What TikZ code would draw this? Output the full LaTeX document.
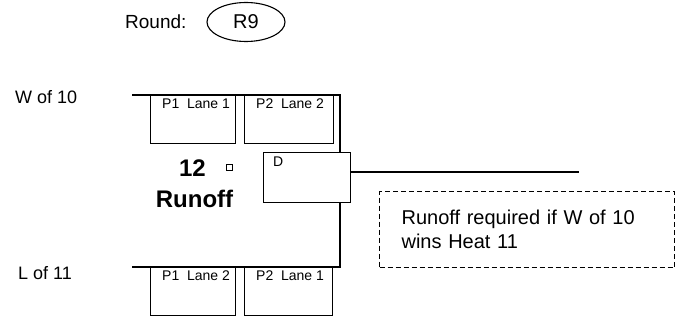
\documentclass[tikz,border=0pt]{standalone}
\usepackage{fontspec}
\setmainfont{Liberation Sans}
\usetikzlibrary{positioning,shapes.geometric}

\begin{document}
\begin{tikzpicture}[x=1pt,y=-1pt,
    lanebox/.style={draw,line width=1.4pt,minimum width=85pt,minimum height=48pt,inner sep=0pt,anchor=north west},
    lanetxt/.style={font=\fontsize{14}{16}\selectfont,anchor=west,inner sep=0pt},
    lbl/.style={font=\fontsize{18}{22}\selectfont,anchor=west,inner sep=0pt},
    big/.style={font=\fontsize{24}{28}\selectfont\bfseries,inner sep=0pt},
    wire/.style={line width=1.2pt}]
        \useasboundingbox (0,0) rectangle (680,320);
        % round header
        \node[lbl,font=\fontsize{19}{22}\selectfont] (round) at (125,22) {Round:};
        \node[draw,ellipse,line width=1.1pt,minimum width=78pt,minimum height=39pt,inner sep=0pt,
              font=\fontsize{20}{22}\selectfont] (rnd) at (246,22) {R9};
        % entrants
        \node[lbl] (win) at (15,97) {W of 10};
        \node[lbl] (lose) at (18,273) {L of 11};
        % lane boxes
        \node[lanebox] (p1a) at (150,95) {};
        \node[lanebox,minimum width=89pt] (p2a) at (244,95) {};
        \node[lanebox] (p1b) at (150,267) {};
        \node[lanebox,minimum width=88pt] (p2b) at (244,267) {};
        \foreach \b/\t in {p1a/P1~~Lane 1,p2a/P2~~Lane 2,p1b/P1~~Lane 2,p2b/P2~~Lane 1}{
          \node[lanetxt] at ([xshift=12pt,yshift=-8.5pt]\b.north west) {\t};
        }
        % heat
        \node[big] (num) at (192.5,168) {12};
        \node[draw,line width=1pt,minimum size=6pt,inner sep=0pt] (chk) at (229.5,167.5) {};
        \node[big] (runoff) at (194.5,198.5) {Runoff};
        \node[draw,line width=1.4pt,minimum width=87pt,minimum height=50pt,inner sep=0pt,anchor=north west] (dbox) at (263,152) {};
        \node[font=\fontsize{14}{16}\selectfont,anchor=north west,inner sep=0pt] at ([xshift=10pt,yshift=-5pt]dbox.north west) {D};
        % bracket lines
        \coordinate (topin) at (132,95);
        \coordinate (topcorner) at (340,95);
        \coordinate (botin) at (132,267);
        \coordinate (botcorner) at (340,267);
        \coordinate (outend) at (579,172);
        \draw[wire] (topin) -- (topcorner) -- (topcorner |- dbox.north);
        \draw[wire] (botcorner |- dbox.south) -- (botcorner) -- (botin);
        \draw[wire] (dbox.east |- outend) -- (outend);
        % note
        \node[draw,dashed,dash pattern=on 5pt off 3pt,line width=1.2pt,anchor=north west,
              minimum width=295pt,minimum height=76pt,text width=251pt,inner xsep=22pt,align=left,
              font=\fontsize{20}{24}\selectfont] (note) at (379,191) {Runoff required if W of 10\\wins Heat 11};
      \end{tikzpicture}
\end{document}
